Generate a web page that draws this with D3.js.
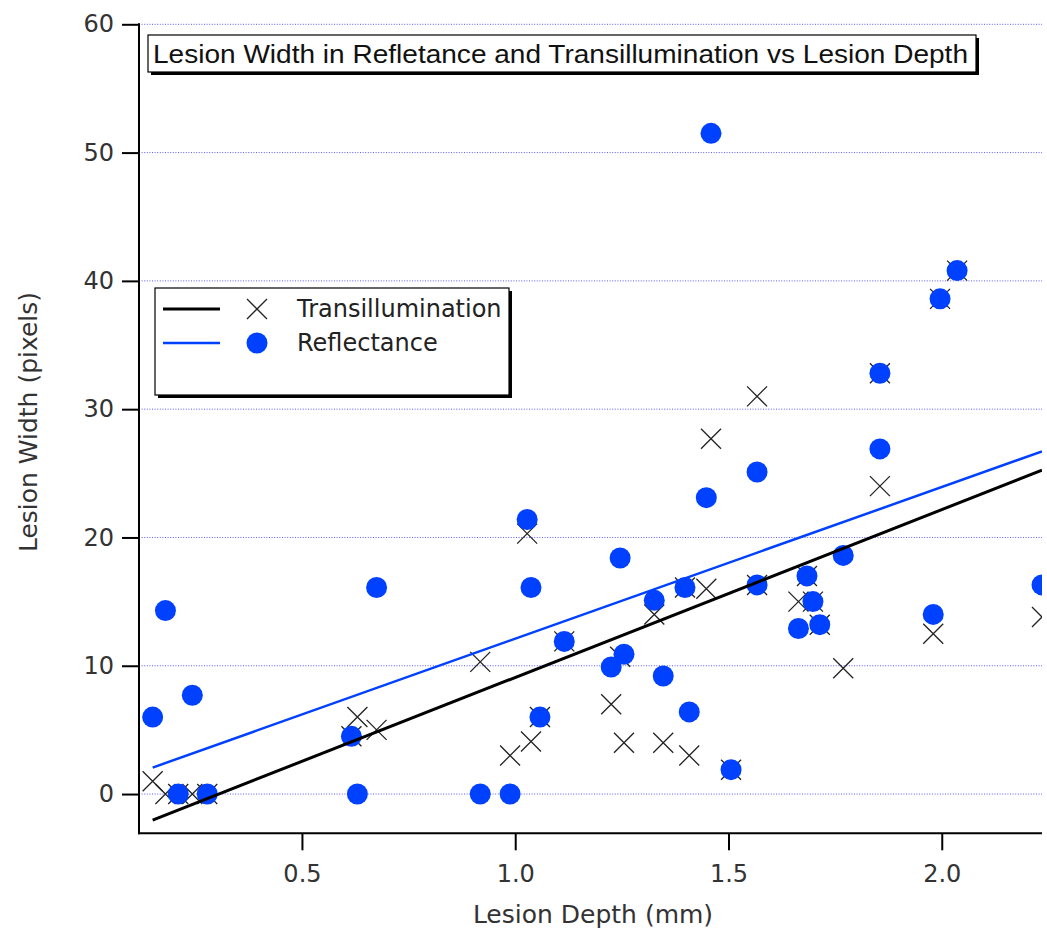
<!DOCTYPE html>
<html>
<head>
<meta charset="utf-8">
<script src="https://cdn.jsdelivr.net/npm/d3@7"></script>
<style>
  html, body { margin: 0; padding: 0; background: #fff; }
  svg { display: block; }
</style>
</head>
<body>
<svg id="chart" width="1047" height="930"></svg>
<script>
// Lesion depth (mm) for each lesion, shared by both measurements
const depth = [0.15, 0.18, 0.21, 0.243, 0.278, 0.616, 0.63, 0.675, 0.918, 0.988,
  1.028, 1.037, 1.058, 1.115, 1.225, 1.246, 1.255, 1.326, 1.347, 1.398,
  1.408, 1.448, 1.459, 1.506, 1.567, 1.567, 1.664, 1.684, 1.698, 1.714,
  1.769, 1.855, 1.855, 1.98, 1.996, 2.036, 2.235];

// Lesion width (pixels) in reflectance images
const reflectance = [6.0, 14.3, 0, 7.7, 0, 4.5, 0, 16.1, 0, 0,
  21.4, 16.1, 6.0, 11.9, 9.9, 18.4, 10.9, 15.1, 9.2, 16.1,
  6.4, 23.1, 51.5, 1.9, 25.1, 16.3, 12.9, 17.0, 15.0, 13.2,
  18.6, 32.8, 26.9, 14.0, 38.6, 40.8, 16.3];

// Lesion width (pixels) in transillumination images
const transillumination = [1.0, 0, 0, 0, 0, 4.5, 6.0, 5.0, 10.3, 3.0,
  20.3, 4.1, 6.0, 11.9, 7.0, 10.7, 4.0, 14.0, 4.0, 16.1,
  3.0, 16.0, 27.7, 1.9, 31.0, 16.3, 15.0, 17.0, 15.0, 13.2,
  9.8, 32.8, 24.0, 12.5, 38.6, 40.8, 13.8];

// Linear fits: [slope, intercept]
const transFit = [13.08, -3.99];
const reflFit = [11.82, 0.29];

const xTicks = [0.5, 1.0, 1.5, 2.0];
const yTicks = [0, 10, 20, 30, 40, 50, 60];
const xDomain = [0.118, 2.235];
const yDomain = [-3.06, 60];

const titleText = "Lesion Width in Refletance and Transillumination vs Lesion Depth";
const xLabel = "Lesion Depth (mm)";
const yLabel = "Lesion Width (pixels)";
const seriesNames = ["Transillumination", "Reflectance"];

const blue = "#0040ff";
const baseFont = "'DejaVu Sans', Verdana, sans-serif";
const plotL = 139, plotR = 1042, plotT = 24.3, plotB = 833.3;

const svg = d3.select("#chart");
const x = d3.scaleLinear().domain(xDomain).range([plotL, plotR]);
const y = d3.scaleLinear().domain(yDomain).range([plotB, plotT]);

svg.append("defs").append("clipPath").attr("id", "plotClip")
  .append("rect").attr("x", plotL).attr("y", plotT - 12)
  .attr("width", plotR - plotL).attr("height", plotB - plotT + 12);

// Horizontal dotted grid
svg.append("g").selectAll("line").data(yTicks).join("line")
  .attr("x1", plotL).attr("x2", plotR)
  .attr("y1", d => y(d)).attr("y2", d => y(d))
  .attr("stroke", "#5a5aff").attr("stroke-width", 1)
  .attr("stroke-dasharray", "1,1.6");

const plot = svg.append("g").attr("clip-path", "url(#plotClip)");

// Transillumination markers (X)
const xs = 10;
const pts = depth.map((d, i) => ({ d, t: transillumination[i], r: reflectance[i] }));
plot.append("g").selectAll("path").data(pts).join("path")
  .attr("d", p => {
    const cx = x(p.d), cy = y(p.t);
    return `M${cx - xs},${cy - xs}L${cx + xs},${cy + xs}M${cx - xs},${cy + xs}L${cx + xs},${cy - xs}`;
  })
  .attr("stroke", "#222").attr("stroke-width", 1.3).attr("fill", "none");

// Reflectance markers (filled circles)
plot.append("g").selectAll("circle").data(pts).join("circle")
  .attr("cx", p => x(p.d)).attr("cy", p => y(p.r)).attr("r", 10.5)
  .attr("fill", blue);

// Fit lines across the depth range
const xr = d3.extent(depth);
const line = d3.line().x(d => x(d[0])).y(d => y(d[1]));
function fitPts(f) { return xr.map(v => [v, f[0] * v + f[1]]); }
plot.append("path").datum(fitPts(reflFit)).attr("d", line)
  .attr("stroke", blue).attr("stroke-width", 2.5).attr("fill", "none");
plot.append("path").datum(fitPts(transFit)).attr("d", line)
  .attr("stroke", "#000").attr("stroke-width", 3).attr("fill", "none");

// Axes
const yAxis = d3.axisLeft(y).tickValues(yTicks).tickSize(17).tickPadding(8).tickFormat(d3.format("d"));
const gy = svg.append("g").attr("transform", `translate(${plotL},0)`).call(yAxis);
gy.select(".domain").remove();
gy.append("line").attr("x1", 0).attr("x2", 0).attr("y1", plotT - 1).attr("y2", plotB + 1)
  .attr("stroke", "#000").attr("stroke-width", 2);
gy.selectAll(".tick line").attr("stroke", "#000").attr("stroke-width", 2);
gy.selectAll(".tick text").attr("fill", "#333")
  .style("font-family", baseFont).style("font-size", "24px");

const xAxis = d3.axisBottom(x).tickValues(xTicks).tickSize(17).tickPadding(15).tickFormat(d3.format(".1f"));
const gx = svg.append("g").attr("transform", `translate(0,${plotB})`).call(xAxis);
gx.select(".domain").remove();
gx.append("line").attr("x1", plotL - 1).attr("x2", plotR).attr("y1", 0).attr("y2", 0)
  .attr("stroke", "#000").attr("stroke-width", 2);
gx.selectAll(".tick line").attr("stroke", "#000").attr("stroke-width", 2);
gx.selectAll(".tick text").attr("fill", "#333")
  .style("font-family", baseFont).style("font-size", "24px");

// Axis titles
svg.append("text").attr("x", 593).attr("y", 923).attr("text-anchor", "middle")
  .style("font-family", baseFont).style("font-size", "25px")
  .attr("fill", "#333").text(xLabel);
svg.append("text").attr("transform", "translate(37,422) rotate(-90)")
  .attr("text-anchor", "middle")
  .style("font-family", baseFont).style("font-size", "25px")
  .attr("fill", "#333").text(yLabel);

// Boxed annotation with drop shadow
function shadowBox(x0, y0, w, h) {
  const g = svg.append("g");
  g.append("rect").attr("x", x0 + 3).attr("y", y0 + 3).attr("width", w).attr("height", h).attr("fill", "#000");
  g.append("rect").attr("x", x0).attr("y", y0).attr("width", w).attr("height", h)
    .attr("fill", "#fff").attr("stroke", "#000").attr("stroke-width", 1.2);
  return g;
}

// Title box
const tb = shadowBox(148, 35, 828, 37);
tb.append("text").attr("x", 153).attr("y", 63)
  .style("font-family", "'Liberation Sans Narrow', 'Liberation Sans', Arial, sans-serif")
  .style("font-size", "26px")
  .attr("textLength", 815).attr("lengthAdjust", "spacingAndGlyphs")
  .attr("fill", "#111").text(titleText);

// Legend
const lg = shadowBox(155, 288, 354, 107);
const legendRows = [
  { name: seriesNames[0], color: "#000", w: 3, mark: "x", yy: 309 },
  { name: seriesNames[1], color: blue, w: 2.5, mark: "o", yy: 343 }
];
legendRows.forEach(r => {
  lg.append("line").attr("x1", 163).attr("x2", 220).attr("y1", r.yy).attr("y2", r.yy)
    .attr("stroke", r.color).attr("stroke-width", r.w);
  if (r.mark === "x") {
    const cx = 257, cy = r.yy;
    lg.append("path")
      .attr("d", `M${cx - xs},${cy - xs}L${cx + xs},${cy + xs}M${cx - xs},${cy + xs}L${cx + xs},${cy - xs}`)
      .attr("stroke", "#222").attr("stroke-width", 1.3);
  } else {
    lg.append("circle").attr("cx", 257).attr("cy", r.yy).attr("r", 10.5).attr("fill", blue);
  }
  lg.append("text").attr("x", 297).attr("y", r.yy + 8)
    .style("font-family", baseFont).style("font-size", "24px")
    .attr("fill", "#222").text(r.name);
});
</script>
</body>
</html>
